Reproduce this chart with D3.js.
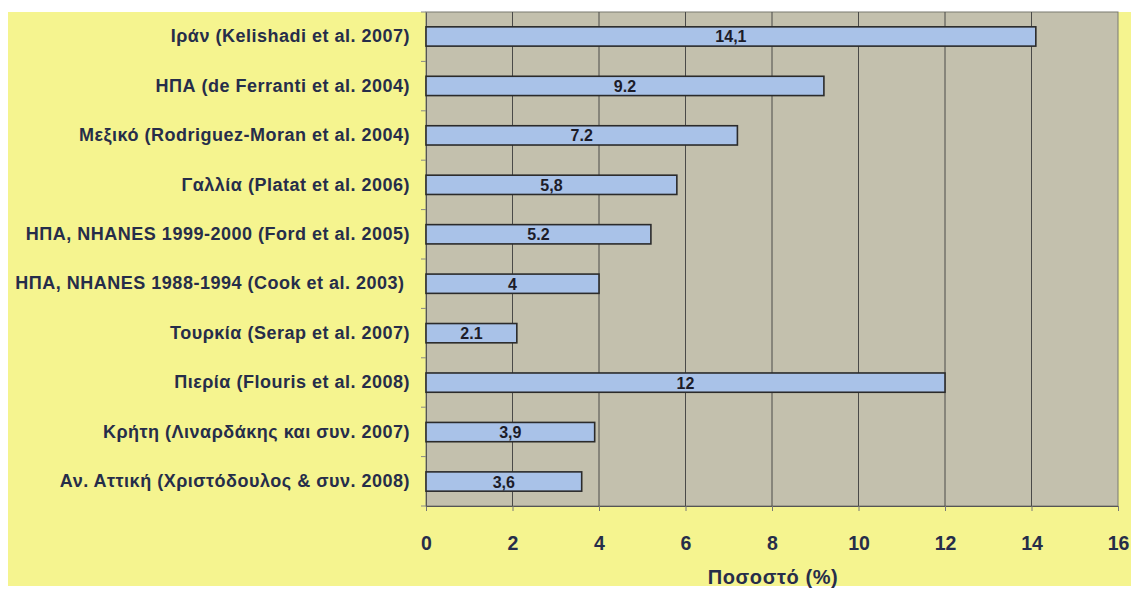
<!DOCTYPE html>
<html><head><meta charset="utf-8">
<script src="https://cdn.jsdelivr.net/npm/d3@7"></script>
<style>body{margin:0;background:#fff}svg{display:block}text{white-space:pre}</style>
</head><body><svg id="c" width="1131" height="589"></svg>
<script>
const categories = [
  "Ιράν (Kelishadi et al. 2007)",
  "ΗΠΑ (de Ferranti et al. 2004)",
  "Μεξικό (Rodriguez-Moran et al. 2004)",
  "Γαλλία (Platat et al. 2006)",
  "ΗΠΑ, NHANES 1999-2000 (Ford et al. 2005)",
  "ΗΠΑ, NHANES 1988-1994 (Cook et al. 2003) ",
  "Τουρκία (Serap et al. 2007)",
  "Πιερία (Flouris et al. 2008)",
  "Κρήτη (Λιναρδάκης και συν. 2007)",
  "Αν. Αττική (Χριστόδουλος & συν. 2008)"
];
const values = [14.1, 9.2, 7.2, 5.8, 5.2, 4, 2.1, 12, 3.9, 3.6];
const valueLabels = ["14,1", "9.2", "7.2", "5,8", "5.2", "4", "2.1", "12", "3,9", "3,6"];
const xTicks = [0, 2, 4, 6, 8, 10, 12, 14, 16];
const xTitle = "Ποσοστό (%)";

const svg = d3.select("#c");
const L = 426, R = 1118, T = 12, B = 506;
const txt = "#262d4a";
const ff = "Liberation Sans, Arial, sans-serif";

svg.append("rect").attr("x", 8).attr("y", 12).attr("width", 1123).attr("height", 574).attr("fill", "#f5f48f");
const x = d3.scaleLinear().domain([0, 16]).range([L, R]);
const y = d3.scaleBand().domain(categories).range([T, B]).paddingInner(0.61).paddingOuter(0.3);

svg.append("rect").attr("x", L).attr("y", T).attr("width", R - L).attr("height", B - T)
  .attr("fill", "#c3c0ad").attr("stroke", "#7a7a70").attr("stroke-width", 1);

// gridlines
svg.append("g").selectAll("line").data(xTicks.slice(1, -1)).join("line")
  .attr("x1", d => x(d)).attr("x2", d => x(d)).attr("y1", T).attr("y2", B)
  .attr("stroke", "#4a4a48").attr("stroke-width", 1);

// x axis
const xa = svg.append("g").attr("transform", `translate(0,${B})`)
  .call(d3.axisBottom(x).tickValues(xTicks).tickSize(5).tickPadding(25).tickFormat(d3.format("d")));
xa.select(".domain").attr("stroke", "#555");
xa.selectAll(".tick line").attr("stroke", "#777");
xa.selectAll("text").attr("font-family", ff).attr("font-size", 19.5)
  .attr("font-weight", "bold").attr("fill", txt);

// y axis
const ya = svg.append("g").attr("transform", `translate(${L},0)`)
  .call(d3.axisLeft(y).tickSize(0).tickPadding(16));
ya.select(".domain").attr("stroke", "#555");
ya.selectAll("text").attr("font-family", ff).attr("font-size", 18).attr("letter-spacing", 0.5)
  .attr("font-weight", "bold").attr("fill", txt);
// band boundary ticks
svg.append("g").selectAll("line").data(d3.range(categories.length + 1)).join("line")
  .attr("x1", L - 5).attr("x2", L).attr("y1", i => T + i * (B - T) / categories.length)
  .attr("y2", i => T + i * (B - T) / categories.length).attr("stroke", "#888");

// bars
svg.append("g").selectAll("rect").data(values).join("rect")
  .attr("x", x(0)).attr("y", (d, i) => y(categories[i]))
  .attr("width", d => x(d) - x(0)).attr("height", y.bandwidth())
  .attr("fill", "#a9c2e8").attr("stroke", "#2b2b2b").attr("stroke-width", 1.6);

svg.append("g").selectAll("text").data(values).join("text")
  .attr("x", d => (x(d) + x(0)) / 2).attr("y", (d, i) => y(categories[i]) + y.bandwidth() / 2 + 6)
  .attr("text-anchor", "middle").attr("font-family", ff)
  .attr("font-size", 16).attr("font-weight", "bold").attr("fill", "#1c1c28")
  .text((d, i) => valueLabels[i]);

svg.append("text").attr("x", (L + R) / 2 + 1).attr("y", 584).attr("text-anchor", "middle")
  .attr("font-family", ff).attr("font-size", 20).attr("letter-spacing", 0.6)
  .attr("font-weight", "bold").attr("fill", txt).text(xTitle);
</script></body></html>
